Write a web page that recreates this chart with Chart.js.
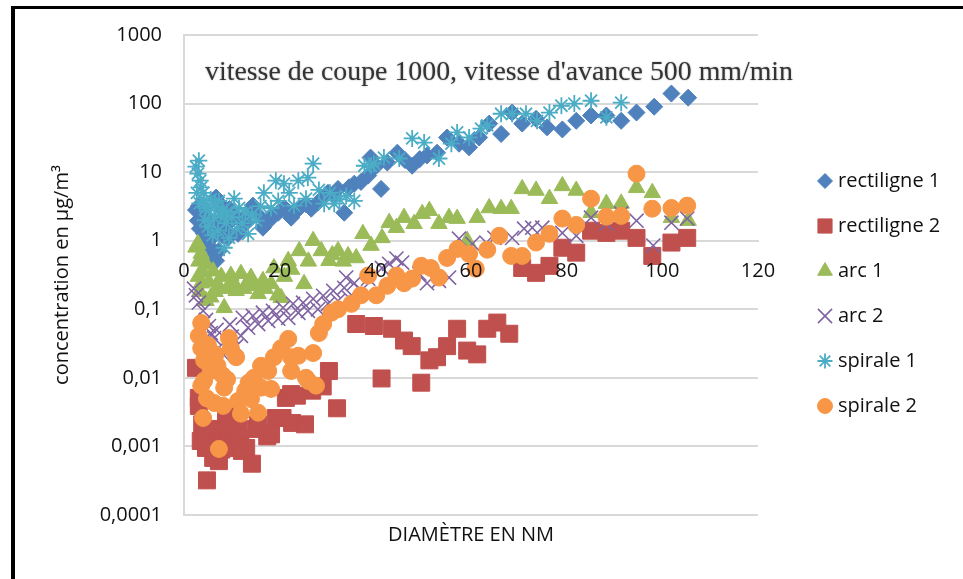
<!DOCTYPE html>
<html lang="fr">
<head>
<meta charset="utf-8">
<title>Concentration vs diamètre</title>
<script src="https://cdn.jsdelivr.net/npm/chart.js@4.4.1/dist/chart.umd.min.js"></script>
<style>
  html, body { margin: 0; padding: 0; background: #fff; }
  canvas { display: block; }
</style>
</head>
<body>
<canvas id="chart" width="963" height="579"></canvas>
<script>
// Données : [diamètre (nm), concentration (µg/m3)]
var rectiligne1 = [
  [2.5, 2.8], [2.9, 1.96], [3.1, 3.2], [3.3, 1.5], [3.6, 3.0], [3.8, 2.2], [4.0, 2.6],
  [4.2, 1.26], [4.6, 1.6], [4.9, 2.0], [5.2, 1.0], [5.6, 0.79], [5.9, 1.4], [6.0, 0.6],
  [6.7, 0.51], [6.7, 4.25], [7.0, 1.8], [7.3, 0.71], [7.6, 3.4], [8.0, 1.2], [8.2, 2.74],
  [8.6, 1.5], [9.2, 1.1], [9.5, 2.9], [9.8, 1.96], [10.4, 2.4], [11.3, 1.26], [12.0, 2.0],
  [13.0, 1.83], [13.8, 2.6], [14.4, 3.25], [15.4, 2.4], [16.5, 1.55], [17.8, 1.96],
  [18.6, 2.3], [19.7, 2.56], [21.0, 3.0], [22.4, 2.17], [23.2, 2.6], [24.1, 3.0],
  [25.5, 3.4], [26.6, 2.93], [28.0, 3.6], [29.0, 4.2], [30.1, 5.0], [31.2, 4.6],
  [32.2, 5.7], [33.5, 2.56], [34.5, 6.0], [35.6, 6.8], [37.0, 7.2], [38.5, 8.9],
  [39.0, 16.3], [40.2, 12.4], [41.2, 5.7], [42.5, 13.8], [44.6, 19.2], [46.2, 15],
  [47.7, 12.4], [49.3, 15.5], [50.8, 17.5], [52.9, 19.2], [55.0, 32], [57.5, 26],
  [59.6, 23], [61.7, 32], [63.8, 51], [66.3, 36], [68.6, 74], [70.7, 51], [73.6, 60],
  [75.9, 45], [79.1, 42], [82.0, 56], [85.1, 67], [88.3, 67], [91.4, 56], [94.6, 74],
  [98.3, 90], [101.9, 140], [105.4, 122]
];
var rectiligne2 = [
  [2.5, 0.014], [3.1, 0.0051], [3.1, 0.0039], [3.5, 0.0012], [3.8, 0.0021], [4.6, 0.0015],
  [4.6, 0.00095], [4.8, 0.00032], [5.5, 0.0012], [5.8, 0.0018], [6.1, 0.00068],
  [6.7, 0.00095], [7.3, 0.00061], [7.8, 0.0009], [8.0, 0.0014], [8.8, 0.003], [9.0, 0.0017],
  [9.4, 0.0013], [10.0, 0.00095], [10.5, 0.003], [11.3, 0.0018], [11.8, 0.0013],
  [12.1, 0.00086], [13.0, 0.00095], [14.2, 0.00056], [15.0, 0.0018], [15.5, 0.0021],
  [17.4, 0.0014], [18.2, 0.0015], [19.2, 0.0026], [20.6, 0.0026], [21.3, 0.0051],
  [22.4, 0.0058], [22.6, 0.0022], [23.6, 0.0055], [25.3, 0.0021], [26.8, 0.0065],
  [29.0, 0.0075], [30.3, 0.0126], [32.0, 0.0036], [36.0, 0.061], [39.7, 0.057],
  [41.3, 0.0098], [43.5, 0.052], [46.0, 0.035], [47.6, 0.029], [49.6, 0.0085],
  [51.3, 0.018], [52.9, 0.02], [55.0, 0.029], [57.1, 0.052], [59.2, 0.025], [61.3, 0.022],
  [63.4, 0.052], [65.5, 0.064], [68.0, 0.044], [70.7, 0.4], [73.6, 0.34], [76.4, 0.43],
  [79.1, 0.79], [82.0, 0.67], [85.1, 1.4], [88.3, 1.3], [91.4, 1.4], [94.6, 1.1],
  [97.9, 0.6], [101.9, 0.94], [105.2, 1.1]
];
var arc1 = [
  [2.5, 0.8], [2.9, 0.9], [3.0, 0.3], [3.1, 0.5], [3.3, 0.18], [3.6, 0.65], [3.6, 0.24],
  [4.0, 0.35], [4.6, 0.46], [4.6, 0.133], [5.2, 0.25], [5.6, 0.15], [6.1, 0.36],
  [6.5, 0.18], [7.2, 0.22], [7.8, 0.3], [8.4, 0.105], [9.0, 0.2], [9.8, 0.31],
  [10.3, 0.25], [10.9, 0.186], [11.9, 0.33], [12.5, 0.2], [13.2, 0.24], [14.0, 0.29],
  [14.8, 0.22], [15.5, 0.168], [16.5, 0.26], [17.0, 0.2], [18.2, 0.235], [18.8, 0.4],
  [19.6, 0.16], [20.3, 0.147], [21.0, 0.3], [21.8, 0.51], [22.5, 0.38], [24.1, 0.71],
  [25.1, 0.235], [26.0, 0.5], [27.0, 1.0], [28.7, 0.71], [30.3, 0.51], [31.0, 0.62],
  [32.2, 0.71], [33.3, 0.5], [34.3, 0.6], [36.0, 0.56], [37.4, 1.26], [39.1, 0.85],
  [41.4, 1.1], [42.9, 1.83], [44.4, 1.55], [46.0, 2.17], [48.1, 1.77], [49.8, 2.48],
  [51.3, 2.74], [53.3, 1.77], [55.4, 2.17], [57.1, 2.1], [59.2, 1.0], [61.3, 2.17],
  [63.8, 3.0], [66.3, 2.93], [68.4, 2.93], [70.7, 5.7], [73.6, 5.4], [76.4, 4.1],
  [79.1, 6.3], [82.0, 5.4], [85.1, 2.56], [88.3, 3.47], [91.4, 3.5], [94.6, 5.9],
  [97.9, 5.0], [101.9, 2.17], [105.4, 1.96]
];
var arc2 = [
  [2.1, 0.2], [2.5, 0.16], [3.1, 0.125], [4.0, 0.095], [4.6, 0.07], [5.2, 0.057],
  [5.6, 0.045], [6.3, 0.038], [6.8, 0.05], [7.1, 0.027], [8.2, 0.022], [9.2, 0.031],
  [9.6, 0.06], [10.0, 0.04], [10.9, 0.029], [11.9, 0.041], [12.3, 0.075], [13.4, 0.054],
  [14.4, 0.08], [15.5, 0.061], [16.5, 0.089], [17.6, 0.068], [18.6, 0.095], [19.7, 0.073],
  [20.7, 0.105], [21.8, 0.075], [22.8, 0.12], [23.9, 0.089], [24.9, 0.125], [25.9, 0.095],
  [27.0, 0.142], [28.0, 0.1], [29.1, 0.157], [30.1, 0.12], [31.2, 0.186], [32.2, 0.133],
  [33.5, 0.206], [33.9, 0.29], [34.5, 0.147], [35.6, 0.24], [37.0, 0.186], [38.5, 0.28],
  [41.4, 0.4], [42.9, 0.46], [44.4, 0.55], [45.6, 0.48], [49.2, 0.33], [50.8, 0.24],
  [53.3, 0.26], [55.4, 0.29], [57.5, 1.07], [60.3, 0.9], [63.2, 0.94], [64.9, 1.1],
  [68.6, 1.1], [71.1, 1.5], [72.8, 1.55], [74.9, 1.55], [79.1, 1.3], [82.0, 1.18],
  [85.1, 2.17], [88.3, 1.77], [91.4, 2.5], [94.6, 1.96], [98.1, 0.85], [101.9, 1.83],
  [105.2, 2.1]
];
var spirale1 = [
  [2.5, 12], [2.7, 5.0], [2.9, 9.5], [3.1, 14.7], [3.3, 3.5], [3.4, 7.5], [3.6, 6.0],
  [4.0, 5.0], [4.2, 3.8], [4.4, 2.0], [4.6, 3.0], [5.0, 1.6], [5.2, 2.74], [5.6, 4.0],
  [6.0, 1.2], [6.3, 2.17], [6.6, 3.2], [7.1, 1.4], [7.3, 3.8], [7.6, 2.4], [8.1, 2.8],
  [8.4, 0.79], [8.8, 1.8], [9.0, 2.6], [9.4, 1.1], [10.0, 2.2], [10.5, 4.1], [11.0, 1.5],
  [11.5, 3.0], [12.2, 1.8], [12.8, 2.6], [13.4, 1.26], [14.2, 2.4], [15.1, 1.96],
  [16.0, 3.2], [16.7, 5.0], [18.2, 3.0], [19.2, 7.5], [19.7, 3.8], [20.9, 6.8],
  [22.0, 5.0], [23.0, 3.25], [23.9, 7.5], [25.5, 4.1], [25.9, 8.3], [27.0, 13.3],
  [28.2, 5.5], [29.3, 3.47], [30.5, 5.0], [31.4, 3.47], [32.5, 4.0], [33.9, 4.5],
  [35.6, 3.8], [37.7, 12.4], [39.1, 12.4], [39.7, 13.3], [41.8, 16.3], [45.0, 15.8],
  [47.7, 31], [50.2, 27], [53.3, 15.8], [55.9, 26], [57.1, 38], [59.6, 32], [62.1, 43],
  [63.4, 48], [66.3, 71], [68.6, 71], [71.5, 71], [73.8, 56], [76.4, 74], [78.9, 93],
  [81.6, 100], [85.1, 110], [88.3, 63], [91.4, 103]
];
var spirale2 = [
  [3.1, 0.041], [3.6, 0.063], [3.6, 0.027], [3.6, 0.0077], [4.0, 0.0026], [4.2, 0.018],
  [4.2, 0.0091], [4.8, 0.005], [5.0, 0.03], [5.6, 0.0126], [6.3, 0.0043], [6.6, 0.022],
  [7.0, 0.015], [7.3, 0.00092], [8.0, 0.011], [8.2, 0.0039], [8.4, 0.0072], [9.0, 0.0095],
  [9.4, 0.038], [9.8, 0.027], [10.9, 0.02], [11.3, 0.0046], [11.9, 0.003], [12.8, 0.0065],
  [13.5, 0.0085], [14.0, 0.0049], [14.6, 0.01], [15.5, 0.0031], [16.1, 0.015],
  [16.1, 0.0072], [17.6, 0.0126], [18.2, 0.0069], [18.8, 0.02], [20.3, 0.027],
  [21.8, 0.037], [22.4, 0.02], [22.4, 0.0126], [23.9, 0.021], [25.5, 0.01], [26.0, 0.009],
  [27.0, 0.023], [27.6, 0.0077], [28.2, 0.045], [29.1, 0.061], [30.8, 0.089], [32.2, 0.1],
  [35.0, 0.12], [37.0, 0.16], [38.5, 0.31], [40.2, 0.16], [42.5, 0.22], [44.4, 0.31],
  [46.0, 0.24], [47.7, 0.28], [49.6, 0.43], [51.6, 0.4], [53.3, 0.29], [55.0, 0.56],
  [57.2, 0.76], [59.6, 0.64], [61.0, 0.39], [63.4, 0.74], [65.9, 1.18], [68.4, 0.6],
  [70.7, 0.6], [73.6, 0.94], [76.4, 1.26], [79.1, 2.1], [82.0, 1.7], [85.1, 4.1],
  [88.3, 2.24], [91.4, 2.3], [94.6, 9.5], [97.9, 2.93], [101.9, 3.0], [105.2, 3.25]
];

var seriesNames = ["rectiligne 1", "rectiligne 2", "arc 1", "arc 2", "spirale 1", "spirale 2"];
var yTickValues = [0.0001, 0.001, 0.01, 0.1, 1, 10, 100, 1000];
var xTickStep = 20;
var chartTitle = "vitesse de coupe 1000, vitesse d'avance 500 mm/min";

document.addEventListener("DOMContentLoaded", function () {
  var FONT = "'Open Sans', 'Noto Sans', sans-serif";
  var TEXT = "#111";
  var GRID = "#d9d9d9";

  function toPoints(arr) {
    return arr.map(function (p) { return { x: p[0], y: p[1] }; });
  }

  // styles des marqueurs (comme Excel)
  var styles = [
    { data: rectiligne1, color: "#4F81BD", style: "rectRot", r: 8.5, bw: 1, lr: 7.5 },
    { data: rectiligne2, color: "#C0504D", style: "rect", r: 12, bw: 1, lr: 10 },
    { data: arc1, color: "#9BBB59", style: "triangle", r: 9.5, bw: 1, lr: 8.5 },
    { data: arc2, color: "#8064A2", style: "crossRot", r: 10, bw: 1.6, lr: 10 },
    { data: spirale1, color: "#4BACC6", style: "star", r: 8.5, bw: 1.8, lr: 7.5 },
    { data: spirale2, color: "#F79646", style: "circle", r: 8.5, bw: 1, lr: 7.5 }
  ];

  var datasets = styles.map(function (s, i) {
    return {
      label: seriesNames[i],
      data: toPoints(s.data),
      pointStyle: s.style,
      pointRadius: s.r,
      pointHoverRadius: s.r,
      pointBorderWidth: s.bw,
      backgroundColor: s.color,
      borderColor: s.color,
      showLine: false,
      order: styles.length - i
    };
  });

  // titre (image collée dans la zone de tracé)
  var titlePlugin = {
    id: "plotTitle",
    beforeDatasetsDraw: function (chart) {
      var ctx = chart.ctx;
      ctx.save();
      ctx.fillStyle = "#fff";
      ctx.fillRect(190, 40, 615, 60);
      ctx.font = "27px 'Liberation Serif', 'DejaVu Serif', serif";
      var w = ctx.measureText(chartTitle).width;
      var scale = 588 / w;
      ctx.translate(499, 73);
      ctx.scale(scale, 1);
      ctx.fillStyle = "#333";
      ctx.shadowColor = "rgba(0,0,0,0.35)";
      ctx.shadowBlur = 2;
      ctx.textAlign = "center";
      ctx.textBaseline = "middle";
      ctx.fillText(chartTitle, 0, 0);
      ctx.restore();
    }
  };

  // légende à droite + cadre noir
  var legendPlugin = {
    id: "sideLegend",
    afterDraw: function (chart) {
      var ctx = chart.ctx;
      ctx.save();
      ctx.font = "20px " + FONT;
      ctx.textBaseline = "middle";
      ctx.textAlign = "left";
      for (var i = 0; i < styles.length; i++) {
        var s = styles[i];
        var y = 181 + i * 45;
        ctx.fillStyle = s.color;
        ctx.strokeStyle = s.color;
        ctx.lineWidth = s.bw;
        Chart.helpers.drawPoint(ctx, { pointStyle: s.style, radius: s.lr, rotation: 0, borderWidth: s.bw }, 825, y);
        ctx.fillStyle = TEXT;
        ctx.fillText(seriesNames[i], 838, y);
      }
      ctx.fillStyle = "#000";
      ctx.fillRect(11, 6, 4, 573);
      ctx.fillRect(11, 6, 952, 3);
      ctx.restore();
    }
  };

  var ctx1 = document.getElementById("chart").getContext("2d");
  var chart = new Chart(ctx1, {
    type: "scatter",
    data: { datasets: datasets },
    plugins: [titlePlugin, legendPlugin],
    options: {
      responsive: false,
      animation: false,
      events: [],
      layout: { padding: { left: 40, right: 205, top: 35, bottom: 32 } },
      plugins: {
        legend: { display: false },
        tooltip: { enabled: false },
        title: {
          display: true,
          position: "bottom",
          fullSize: false,
          text: "DIAMÈTRE EN NM",
          color: TEXT,
          font: { family: FONT, size: 20, weight: "normal" },
          padding: { top: 8, bottom: 0 }
        }
      },
      scales: {
        x: {
          type: "linear",
          min: 0,
          max: 120,
          position: { y: 1 },
          ticks: {
            z: 1,
            stepSize: xTickStep,
            padding: 19,
            color: TEXT,
            font: { family: FONT, size: 20 }
          },
          grid: { display: false, drawTicks: false },
          border: { display: true, color: GRID, width: 2 }
        },
        y: {
          type: "logarithmic",
          min: 0.0001,
          max: 1000,
          afterBuildTicks: function (axis) {
            axis.ticks = yTickValues.map(function (v) { return { value: v }; });
          },
          afterFit: function (axis) {
            axis.width = 144;
          },
          ticks: {
            autoSkip: false,
            padding: 22,
            color: TEXT,
            font: { family: FONT, size: 20 },
            callback: function (value) {
              return String(value).replace(".", ",");
            }
          },
          grid: { color: GRID, lineWidth: 2, drawTicks: false },
          border: { display: true, color: GRID, width: 2 },
          title: {
            display: true,
            text: "concentration en µg/m³",
            color: TEXT,
            font: { family: FONT, size: 20 },
            padding: { top: 10, bottom: 0 }
          }
        }
      }
    }
  });
});
</script>
</body>
</html>
